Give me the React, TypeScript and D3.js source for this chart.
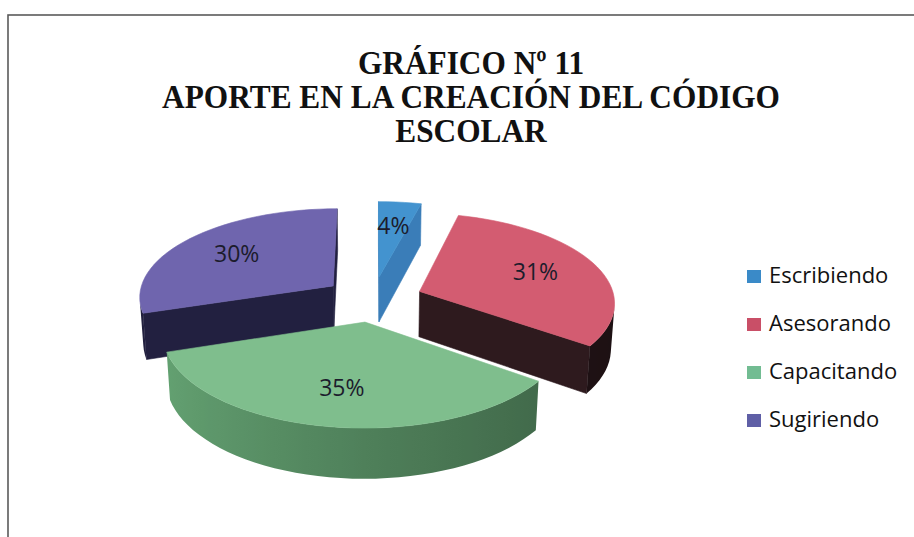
import React from "react";
import * as d3 from "d3";

const categories = ["Escribiendo", "Asesorando", "Capacitando", "Sugiriendo"];
const values = [4, 31, 35, 30];
const percentLabels = ["4%", "31%", "35%", "30%"];
const titleLines = ["GRÁFICO Nº 11", "APORTE EN LA CREACIÓN DEL CÓDIGO", "ESCOLAR"];

const topColors = ["#4393cf", "#d35c71", "#7fbe8d", "#6f65ae"];
const sideColors = ["#3a7db8", "#2e1a1e", "#64a272", "#222040"];
const legendColors = ["#3a8ac8", "#c94f67", "#72bc92", "#5f5fa6"];

const W = 914;
const H = 537;

const ALPHA = (27 * Math.PI) / 180;
const SA = Math.sin(ALPHA);
const CA = Math.cos(ALPHA);
const DIST = 1550;
const SX = 373;
const SY = 299;
const R = 195;
const EXPLODE = 50;
const DEPTH = 52;
const SEG = 60;

type V3 = [number, number, number];

function project(p: V3): [number, number] {
  const [X, Y, Z] = p;
  const depth = DIST - Y * SA + Z * CA;
  const up = Y * CA + Z * SA;
  return [SX + (DIST * X) / depth, SY - (DIST * up) / depth];
}
const cam: V3 = [0, DIST * SA, -DIST * CA];
function visible(n: V3, p: V3) {
  return n[0] * (cam[0] - p[0]) + n[1] * (cam[1] - p[1]) + n[2] * (cam[2] - p[2]) > 0;
}
function pathOf(pts: V3[]) {
  return "M" + pts.map((p) => project(p).map((v) => v.toFixed(2)).join(",")).join("L") + "Z";
}
function depthOf(p: V3) {
  return DIST - p[1] * SA + p[2] * CA;
}

type Face = { d: string; fill: string; grad?: { id: string; x1: number; x2: number; stops: { off: number; col: string }[] } };

export default function App() {
  const arcs = d3
    .pie<number>()
    .sort(null)
    .startAngle(0)
    .endAngle(2 * Math.PI)(values);

  const slices = arcs.map((a, i) => {
    const mid = (a.startAngle + a.endAngle) / 2;
    const o: V3 = [EXPLODE * Math.sin(mid), 0, EXPLODE * Math.cos(mid)];
    const rim = (t: number, y: number): V3 => [o[0] + R * Math.sin(t), y, o[2] + R * Math.cos(t)];
    const n = Math.max(2, Math.ceil((SEG * (a.endAngle - a.startAngle)) / Math.PI));
    const ts = d3.range(n + 1).map((k) => a.startAngle + ((a.endAngle - a.startAngle) * k) / n);
    const faces: Face[] = [];
    const side = sideColors[i];
    const ctop: V3 = [o[0], 0, o[2]];
    const cbot: V3 = [o[0], -DEPTH, o[2]];
    const nStart: V3 = [Math.sin(a.startAngle - Math.PI / 2), 0, Math.cos(a.startAngle - Math.PI / 2)];
    if (visible(nStart, ctop)) {
      faces.push({ d: pathOf([ctop, rim(a.startAngle, 0), rim(a.startAngle, -DEPTH), cbot]), fill: side });
    }
    const nEnd: V3 = [Math.sin(a.endAngle + Math.PI / 2), 0, Math.cos(a.endAngle + Math.PI / 2)];
    if (visible(nEnd, ctop)) {
      faces.push({ d: pathOf([ctop, rim(a.endAngle, 0), rim(a.endAngle, -DEPTH), cbot]), fill: side });
    }
    const visT: number[] = [];
    for (let k = 0; k < n; k++) {
      const m = (ts[k] + ts[k + 1]) / 2;
      const nr: V3 = [Math.sin(m), 0, Math.cos(m)];
      if (visible(nr, rim(ts[k], 0))) {
        if (visT.length === 0 || visT[visT.length - 1] !== ts[k]) visT.push(ts[k]);
        visT.push(ts[k + 1]);
      }
    }
    if (visT.length > 1) {
      const pts: V3[] = [...visT.map((t) => rim(t, 0)), ...visT.slice().reverse().map((t) => rim(t, -DEPTH))];
      const xs = visT.map((t) => project(rim(t, 0))[0]);
      const x1 = Math.min(...xs);
      const x2 = Math.max(...xs);
      const shadeOf = (t: number) => d3.color(side)!.darker((1.3 * (1 + Math.sin(t))) / 2).formatHex();
      const stops = visT
        .map((t, k) => ({ off: x2 > x1 ? (xs[k] - x1) / (x2 - x1) : 0, col: shadeOf(t) }))
        .sort((p, q) => p.off - q.off);
      faces.push({ d: pathOf(pts), fill: `url(#rim${i})`, grad: { id: `rim${i}`, x1, x2, stops } });
    }
    faces.push({ d: pathOf([ctop, ...ts.map((t) => rim(t, 0))]), fill: topColors[i] });
    const lr = EXPLODE + R * 0.66;
    const lp = project([lr * Math.sin(mid), 0, lr * Math.cos(mid)]);
    const centroid: V3 = [o[0] + 0.5 * R * Math.sin(mid), 0, o[2] + 0.5 * R * Math.cos(mid)];
    return { i, faces, lp, depth: depthOf(centroid) };
  });

  const order = [...slices].sort((a, b) => b.depth - a.depth);
  const grads = slices.flatMap((s) => s.faces.filter((f) => f.grad).map((f) => f.grad!));

  return (
    <svg width={W} height={H} style={{ position: "absolute", left: 0, top: 0, background: "#ffffff" }}>
      <defs>
        {grads.map((g) => (
          <linearGradient key={g.id} id={g.id} gradientUnits="userSpaceOnUse" x1={g.x1} x2={g.x2} y1={0} y2={0}>
            {g.stops.map((st, k) => (
              <stop key={k} offset={st.off} stopColor={st.col} />
            ))}
          </linearGradient>
        ))}
      </defs>
      <rect x={0} y={0} width={W} height={H} fill="#ffffff" />
      <rect x={8} y={15} width={1000} height={1000} fill="none" stroke="#5a5a5a" strokeWidth={1.6} />
      <g
        fontFamily="'Liberation Serif', 'Times New Roman', serif"
        fontWeight="bold"
        fontSize={33}
        fill="#111"
        textAnchor="middle"
        transform={`translate(471,0) scale(0.95,1)`}
      >
        {titleLines.map((t, k) => (
          <text key={k} x={0} y={74 + k * 34}>
            {t}
          </text>
        ))}
      </g>
      {order.map((s) => (
        <g key={s.i}>
          {s.faces.map((f, k) => (
            <path
              key={k}
              d={f.d}
              fill={f.fill}
              stroke={f.grad ? "none" : f.fill}
              strokeWidth={0.6}
              strokeLinejoin="round"
            />
          ))}
        </g>
      ))}
      {slices.map((s) => (
        <text
          key={"l" + s.i}
          x={s.lp[0]}
          y={s.lp[1]}
          dy="0.35em"
          textAnchor="middle"
          fontFamily="'Open Sans', sans-serif"
          fontSize={23}
          fill="#1c1c2c"
        >
          {percentLabels[s.i]}
        </text>
      ))}
      <g fontFamily="'Open Sans', sans-serif" fontSize={22} fill="#111">
        {categories.map((c, k) => (
          <g key={c} transform={`translate(747,${283 + k * 48})`}>
            <rect x={0} y={-13} width={14} height={13} fill={legendColors[k]} />
            <text x={22} y={0}>
              {c}
            </text>
          </g>
        ))}
      </g>
    </svg>
  );
}
